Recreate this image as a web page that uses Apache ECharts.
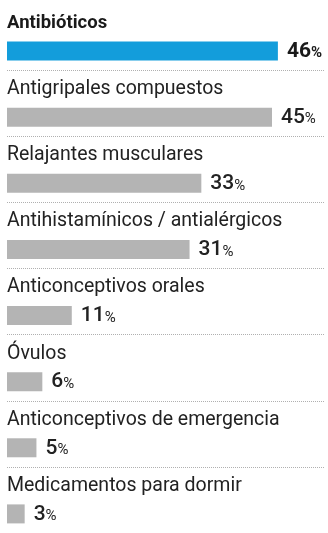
<!DOCTYPE html>
<html><head><meta charset="utf-8">
<script src="https://cdn.jsdelivr.net/npm/echarts@6/dist/echarts.min.js"></script>
<style>html,body{margin:0;padding:0;background:#fff}#c{width:328px;height:533px}</style>
</head><body><div id="c"></div>
<script>
var categories = ["Antibióticos","Antigripales compuestos","Relajantes musculares","Antihistamínicos / antialérgicos","Anticonceptivos orales","Óvulos","Anticonceptivos de emergencia","Medicamentos para dormir"];
var values = [46,45,33,31,11,6,5,3];
var highlight = [true,false,false,false,false,false,false,false];

var FONT = 'Roboto, "Liberation Sans", sans-serif';
var chart = echarts.init(document.getElementById('c'), null, {renderer:'canvas'});
chart.setOption({
  animation:false,
  grid:{left:7,right:3,top:4,height:536,containLabel:false},
  xAxis:{type:'value',min:0,max:54,show:false},
  yAxis:{type:'category',data:categories,inverse:true,
    axisLine:{show:false},axisTick:{show:false},axisLabel:{show:false},
    splitLine:{show:true,interval:function(i){return i>0;},lineStyle:{color:'#b0b0b0',type:[1,1],width:1}}
  },
  series:[
    {type:'bar',barWidth:19,data:values,itemStyle:{color:'rgba(0,0,0,0)'},silent:true,
      label:{show:true,position:[0,'50%'],align:'left',verticalAlign:'middle',
        formatter:function(p){return highlight[p.dataIndex]?'{b|'+p.name+'}':'{r|'+p.name+'}';},
        rich:{b:{fontFamily:FONT,fontSize:18.5,fontWeight:'bold',color:'#1a1a1a'},
              r:{fontFamily:FONT,fontSize:19.5,color:'#222'}}}},
    {type:'bar',barWidth:19,barGap:'47%',data:values,
      itemStyle:{color:function(p){return highlight[p.dataIndex]?'#139ddb':'#b4b4b4';}},
      label:{show:true,position:'right',distance:9,
        formatter:function(p){return highlight[p.dataIndex]?'{nb|'+p.value+'}{pb|%}':'{n|'+p.value+'}{p|%}';},
        rich:{nb:{fontFamily:FONT,fontSize:21,fontWeight:'bold',color:'#1a1a1a',lineHeight:22,verticalAlign:'bottom'},
              pb:{fontFamily:FONT,fontSize:15,fontWeight:'bold',color:'#1a1a1a',lineHeight:22,verticalAlign:'bottom',padding:[0,0,1,0]},
              n:{fontFamily:FONT,fontSize:21,fontWeight:500,color:'#222',lineHeight:22,verticalAlign:'bottom'},
              p:{fontFamily:FONT,fontSize:15,color:'#222',lineHeight:22,verticalAlign:'bottom',padding:[0,0,1,0]}}}}
  ]
});
</script></body></html>
